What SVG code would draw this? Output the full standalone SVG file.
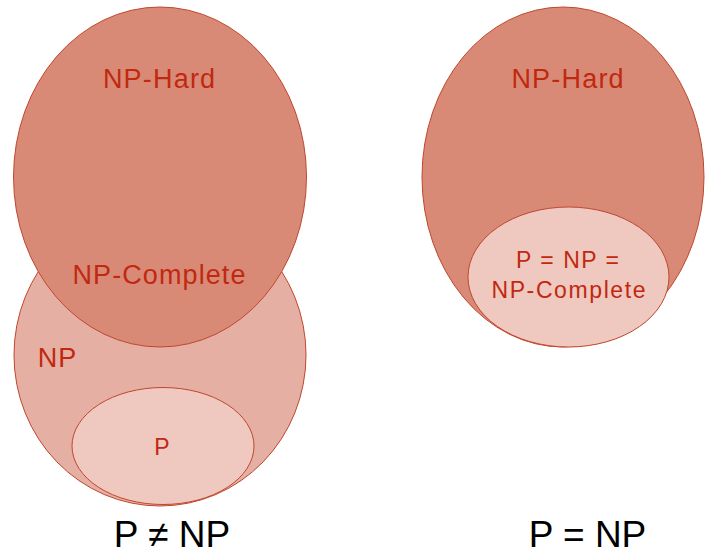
<svg xmlns="http://www.w3.org/2000/svg" width="705" height="555" viewBox="0 0 705 555">
<style>
.hard{fill:#d98a77;stroke:#c0462d;stroke-width:1}
.np{fill:#e5b0a3;stroke:#c0462d;stroke-width:1}
.p{fill:#efc8bf;stroke:#c0462d;stroke-width:1}
.lbl{font-family:"Liberation Sans",Arial,sans-serif;fill:#c0290f;text-anchor:middle}
.cap{font-family:"Liberation Sans",Arial,sans-serif;fill:#000;text-anchor:middle;font-size:37px}
</style>
<rect width="705" height="555" fill="#fff"/>
<g id="left-np">
<ellipse class="np" cx="160" cy="355" rx="146" ry="151"/>
</g>
<g id="left-nphard">
<ellipse class="hard" cx="160" cy="177" rx="146.5" ry="170"/>
</g>
<g id="left-p">
<ellipse class="p" cx="163" cy="446" rx="91" ry="58.5"/>
</g>
<text class="lbl" x="159.6" y="88" font-size="27" letter-spacing="1.2">NP-Hard</text>
<text class="lbl" x="159.5" y="284" font-size="27" letter-spacing="1.1">NP-Complete</text>
<text class="lbl" x="57.5" y="367" font-size="27" letter-spacing="1">NP</text>
<text class="lbl" x="162" y="455" font-size="23">P</text>
<g id="right-nphard">
<ellipse class="hard" cx="563" cy="177" rx="141" ry="170"/>
</g>
<g id="right-p">
<ellipse class="p" cx="568.5" cy="277" rx="100.5" ry="70"/>
</g>
<text class="lbl" x="568.1" y="88" font-size="27" letter-spacing="1.2">NP-Hard</text>
<text class="lbl" x="568.3" y="268" font-size="23" letter-spacing="1.5">P = NP =</text>
<text class="lbl" x="569.3" y="298" font-size="23" letter-spacing="1.6">NP-Complete</text>
<text class="cap" x="172" y="547">P ≠ NP</text>
<text class="cap" x="587.5" y="547">P = NP</text>
</svg>
